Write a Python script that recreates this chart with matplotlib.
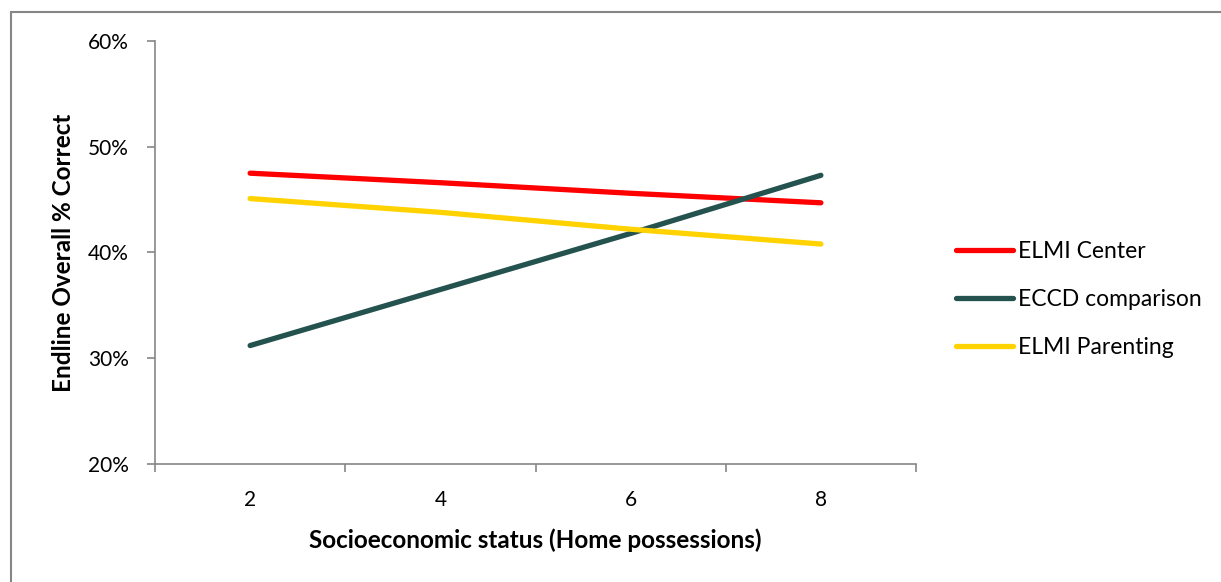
import matplotlib.pyplot as plt
from matplotlib.patches import Rectangle
from matplotlib.ticker import PercentFormatter

# Home possessions score (x) and endline % correct for each group
ses = [2, 4, 6, 8]
elmi_center = [47.5, 46.6, 45.6, 44.7]
eccd_comparison = [31.2, 36.5, 41.8, 47.3]
elmi_parenting = [45.1, 43.8, 42.2, 40.8]

series_names = ["ELMI Center", "ECCD comparison", "ELMI Parenting"]
series_colors = ["#FF0000", "#24524E", "#FFD200"]

plt.rcParams['font.family'] = ['Lato', 'DejaVu Sans']

fig = plt.figure(figsize=(12.21, 5.82), dpi=100)
ax = fig.add_axes([155 / 1221, 118 / 582, 761 / 1221, 423 / 582])

for vals, name, col in zip([elmi_center, eccd_comparison, elmi_parenting],
                           series_names, series_colors):
    ax.plot(ses, vals, color=col, lw=3.8, solid_capstyle='round', label=name)

ax.set_xlim(1, 9)
ax.set_ylim(20, 60)
ax.set_yticks([20, 30, 40, 50, 60])
ax.yaxis.set_major_formatter(PercentFormatter(decimals=0))
ax.set_xticks(ses)
ax.set_xticks([1, 3, 5, 7, 9], minor=True)
ax.tick_params(axis='x', which='major', length=0, labelsize=15, pad=19)
ax.tick_params(axis='x', which='minor', length=6, width=1.2, color='#868686')
ax.tick_params(axis='y', length=6, width=1.2, color='#868686', labelsize=15, pad=13)

for s in ['top', 'right']:
    ax.spines[s].set_visible(False)
for s in ['left', 'bottom']:
    ax.spines[s].set_color('#868686')
    ax.spines[s].set_linewidth(1.2)

ax.set_ylabel("Endline Overall % Correct", fontsize=17.5, fontweight='bold', labelpad=9)
ax.set_xlabel("Socioeconomic status (Home possessions)", fontsize=17.5,
              fontweight='bold', labelpad=13)

fig.legend(loc='upper left', bbox_to_anchor=(947 / 1221, 1 - 232 / 582),
           frameon=False, fontsize=16.5, handlelength=2.5, handletextpad=0.2,
           labelspacing=1.18, borderaxespad=0)

# outer chart border
fig.add_artist(Rectangle((11 / 1221, -0.1), 1.2, 0.1 + (582 - 12) / 582,
                         transform=fig.transFigure, fill=False,
                         edgecolor='#868686', lw=1.5))

fig.savefig("out.png", dpi=100)
